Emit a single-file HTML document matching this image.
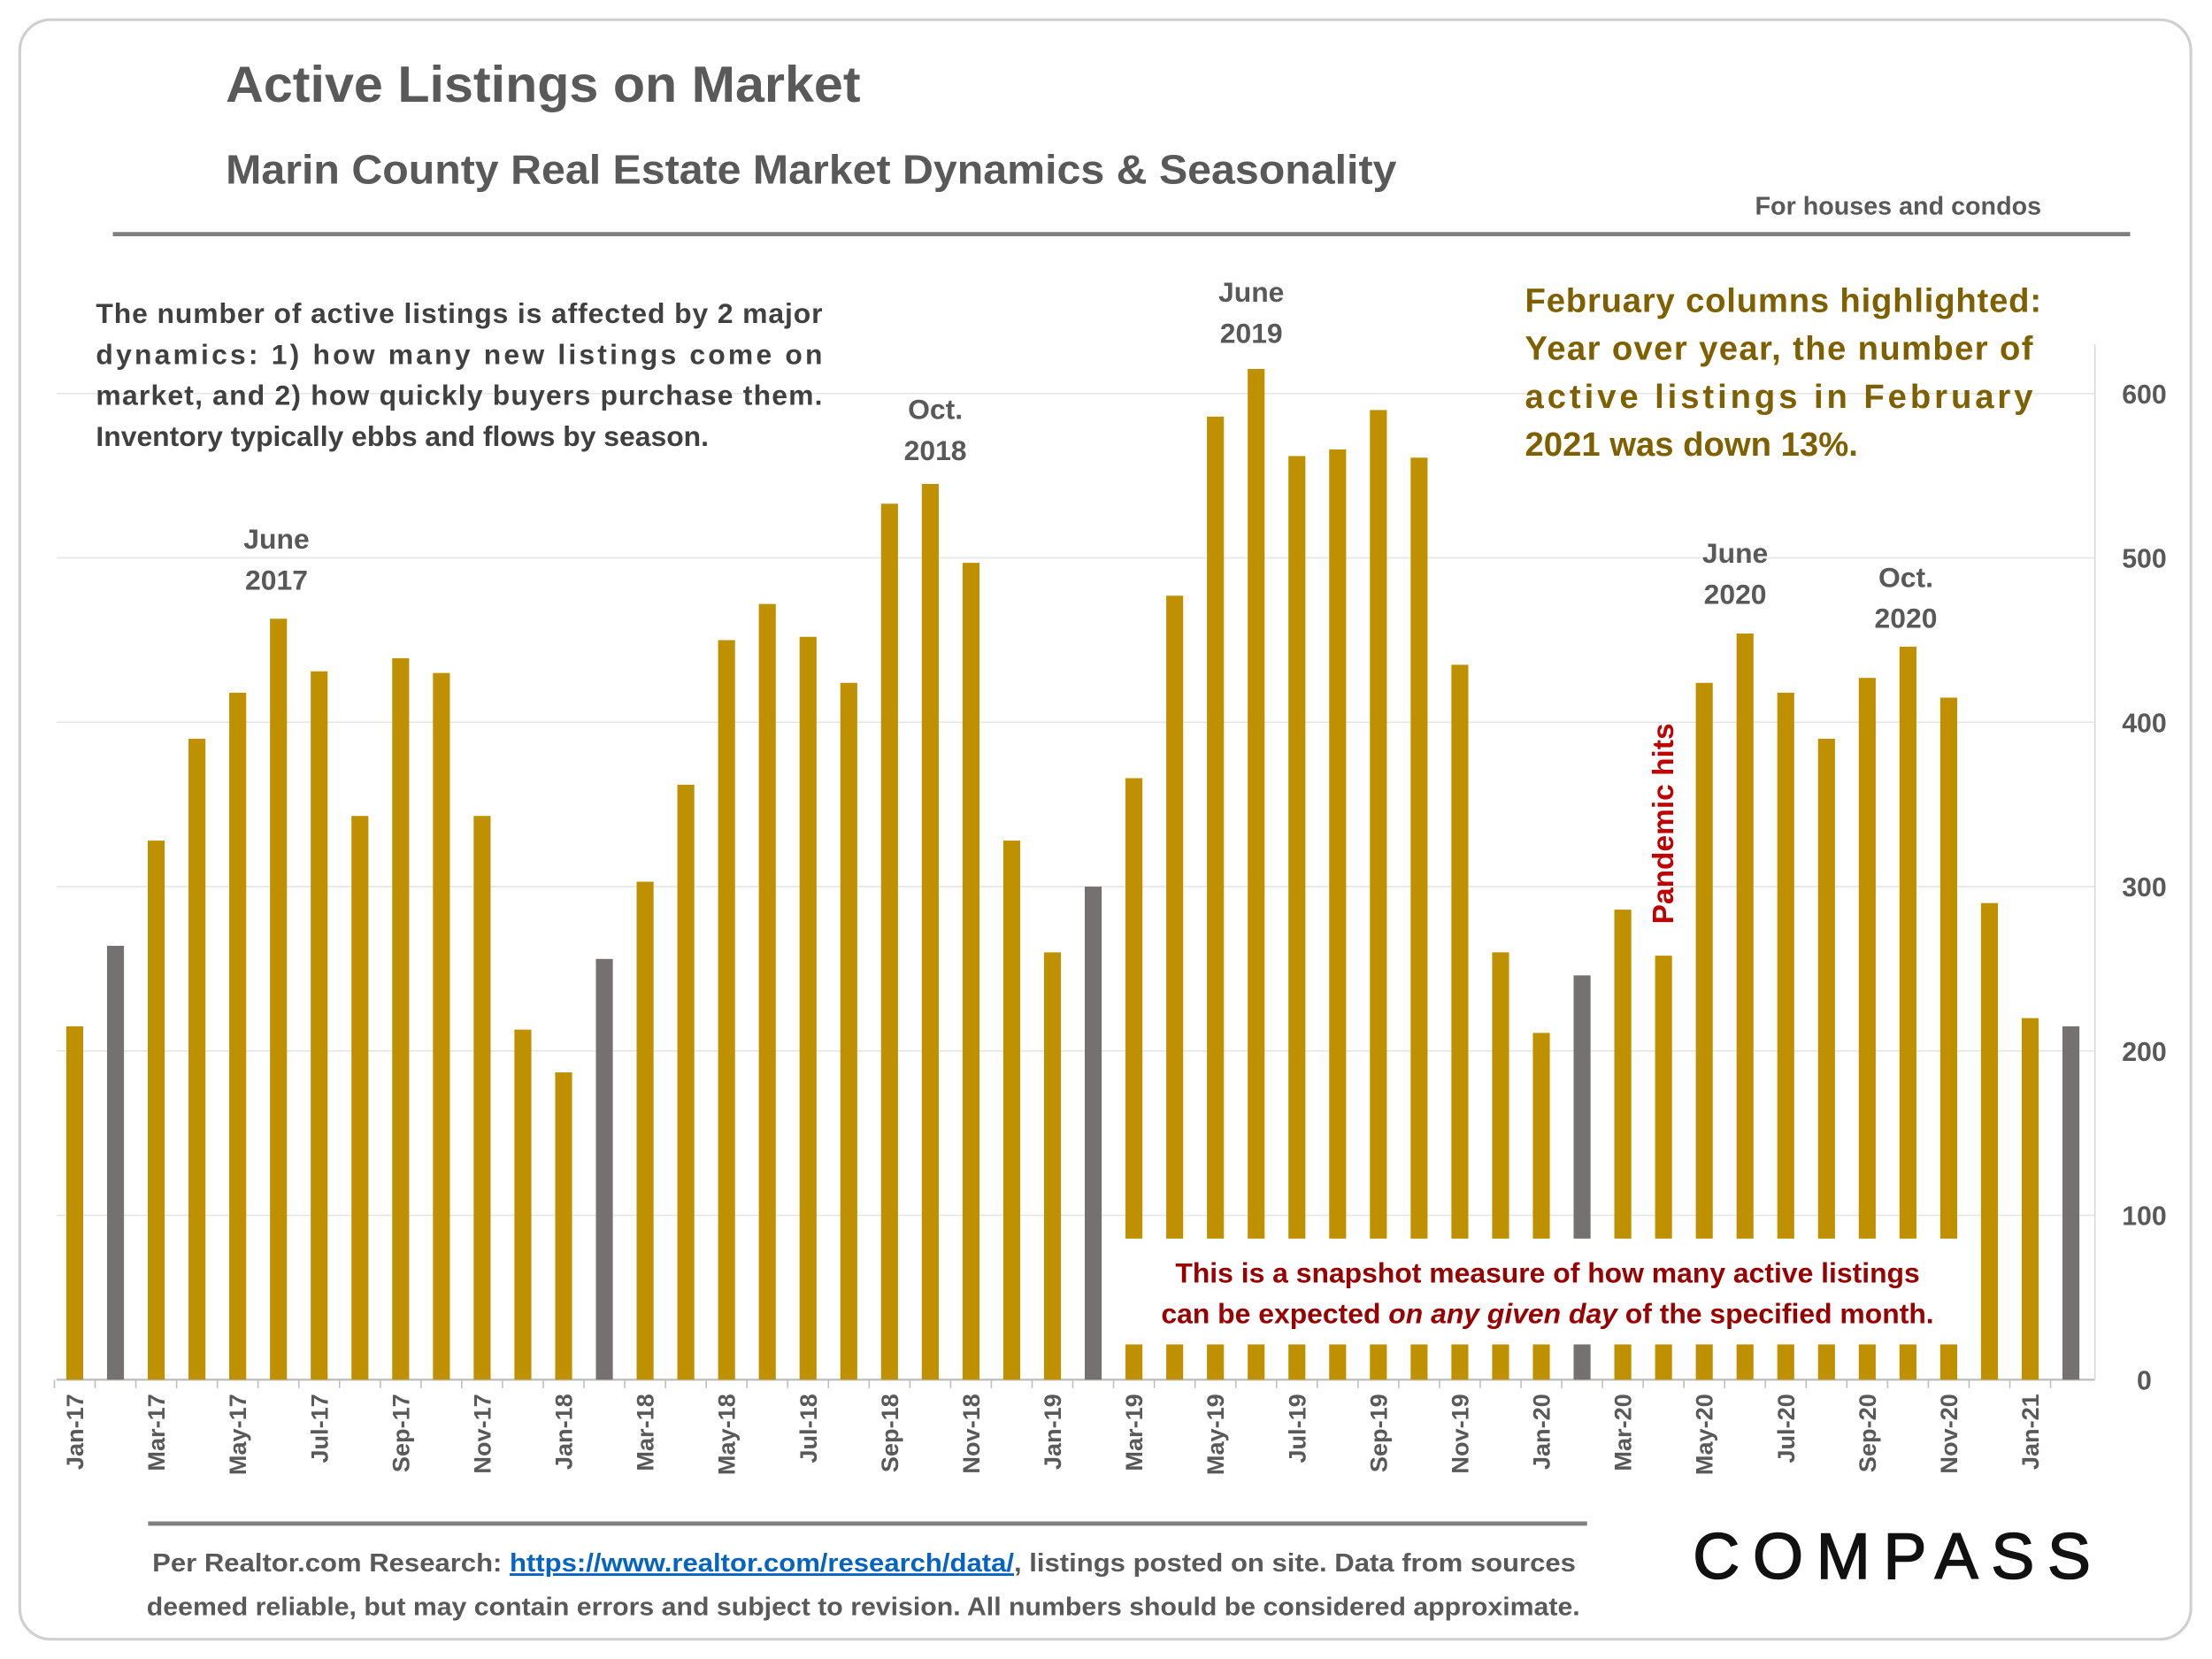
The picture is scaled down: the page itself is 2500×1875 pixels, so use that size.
<!DOCTYPE html>
<html><head><meta charset="utf-8"><style>
html,body{margin:0;padding:0;background:#fff;}
svg{display:block;font-family:"Liberation Sans",Arial,sans-serif;}
</style></head><body>
<svg id="chart" width="2500" height="1875" viewBox="0 0 1568 1176">
<rect x="14" y="14" width="1539" height="1148" rx="22" fill="#fff" stroke="#d0d0d0" stroke-width="2"/>
<text x="160" y="72" font-size="36" font-weight="bold" fill="#595959" textLength="450" lengthAdjust="spacingAndGlyphs">Active Listings on Market</text>
<text x="160" y="130" font-size="29" font-weight="bold" fill="#595959" textLength="830" lengthAdjust="spacingAndGlyphs">Marin County Real Estate Market Dynamics &amp; Seasonality</text>
<text x="1447" y="152" font-size="18" font-weight="bold" fill="#595959" text-anchor="end">For houses and condos</text>
<line x1="80" y1="166" x2="1510" y2="166" stroke="#7f7f7f" stroke-width="3"/>
<g id="grid"></g>
<g id="bars"></g>
<g id="yaxis"></g>
<g id="xaxis"></g>
<rect x="795" y="878" width="595" height="75" fill="#fff"/>
<text x="1097" y="909" font-size="20" font-weight="bold" fill="#990000" text-anchor="middle">This is a snapshot measure of how many active listings</text>
<text x="1097" y="938" font-size="20" font-weight="bold" fill="#990000" text-anchor="middle">can be expected <tspan font-style="italic">on any given day</tspan> of the specified month.</text>
<g font-size="20" font-weight="bold" fill="#404040">
<text x="68" y="229" textLength="515" lengthAdjust="spacing">The number of active listings is affected by 2 major</text>
<text x="68" y="258" textLength="515" lengthAdjust="spacing">dynamics: 1) how many new listings come on</text>
<text x="68" y="287" textLength="515" lengthAdjust="spacing">market, and 2) how quickly buyers purchase them.</text>
<text x="68" y="316">Inventory typically ebbs and flows by season.</text>
</g>
<g font-size="24" font-weight="bold" fill="#7F6000">
<text x="1081" y="221" textLength="366" lengthAdjust="spacing">February columns highlighted:</text>
<text x="1081" y="255" textLength="360" lengthAdjust="spacing">Year over year, the number of</text>
<text x="1081" y="289" textLength="360" lengthAdjust="spacing">active listings in February</text>
<text x="1081" y="323">2021 was down 13%.</text>
</g>
<g font-size="20" font-weight="bold" fill="#595959" text-anchor="middle">
<text x="196" y="389">June</text><text x="196" y="418">2017</text>
<text x="663" y="297">Oct.</text><text x="663" y="326">2018</text>
<text x="887" y="214">June</text><text x="887" y="243">2019</text>
<text x="1230" y="399">June</text><text x="1230" y="428">2020</text>
<text x="1351" y="416">Oct.</text><text x="1351" y="445">2020</text>
</g>
<text transform="translate(1186,655) rotate(-90)" font-size="21" font-weight="bold" fill="#C00000">Pandemic hits</text>
<line x1="105" y1="1080" x2="1125" y2="1080" stroke="#7f7f7f" stroke-width="3"/>
<text x="108" y="1114" font-size="18" font-weight="bold" fill="#595959" textLength="1009" lengthAdjust="spacingAndGlyphs">Per Realtor.com Research:  <tspan fill="#0563C1" text-decoration="underline">https://www.realtor.com/research/data/</tspan>, listings posted on site. Data from sources</text>
<text x="104" y="1145" font-size="18" font-weight="bold" fill="#595959" textLength="1016" lengthAdjust="spacingAndGlyphs">deemed reliable, but may contain errors and subject to revision. All numbers should be considered approximate.</text>
<text x="1200" y="1119" font-size="46" fill="#111" stroke="#111" stroke-width="1" textLength="282" lengthAdjust="spacing">COMPASS</text>
</svg>
<script>
const months = ["Jan-17","Feb-17","Mar-17","Apr-17","May-17","Jun-17","Jul-17","Aug-17","Sep-17","Oct-17","Nov-17","Dec-17","Jan-18","Feb-18","Mar-18","Apr-18","May-18","Jun-18","Jul-18","Aug-18","Sep-18","Oct-18","Nov-18","Dec-18","Jan-19","Feb-19","Mar-19","Apr-19","May-19","Jun-19","Jul-19","Aug-19","Sep-19","Oct-19","Nov-19","Dec-19","Jan-20","Feb-20","Mar-20","Apr-20","May-20","Jun-20","Jul-20","Aug-20","Sep-20","Oct-20","Nov-20","Dec-20","Jan-21","Feb-21"];
const listings = [215,264,328,390,418,463,431,343,439,430,343,213,187,256,303,362,450,472,452,424,533,545,497,328,260,300,366,477,586,615,562,566,590,561,435,260,211,246,286,258,424,454,418,390,427,446,415,290,220,215];
const yTicks = [0,100,200,300,400,500,600];
const NS="http://www.w3.org/2000/svg";
const y0=978, pxPer=699/600, x0=53, step=(1468-53)/49, bw=12;
const y=v=>y0-v*pxPer, x=i=>x0+i*step;
const grid=document.getElementById('grid'), bars=document.getElementById('bars'), ya=document.getElementById('yaxis'), xa=document.getElementById('xaxis');
yTicks.forEach(t=>{
  const l=document.createElementNS(NS,'line');
  
  
  l.setAttribute('x1',40);l.setAttribute('x2',1485);l.setAttribute('y1',y(t));l.setAttribute('y2',y(t));
  l.setAttribute('stroke',t===0?'#bfbfbf':'#e6e6e6');l.setAttribute('stroke-width',t===0?1.5:1);
  grid.appendChild(l);
  const tx=document.createElementNS(NS,'text');
  
  
  tx.setAttribute('x',1520);tx.setAttribute('y',y(t)+7);tx.setAttribute('text-anchor','middle');
  tx.setAttribute('font-size','19');tx.setAttribute('font-weight','bold');tx.setAttribute('fill','#595959');
  tx.textContent=t;ya.appendChild(tx);
});
const ax=document.createElementNS(NS,'line');


ax.setAttribute('x1',1485);ax.setAttribute('x2',1485);ax.setAttribute('y1',244);ax.setAttribute('y2',y0);ax.setAttribute('stroke','#d9d9d9');
ya.appendChild(ax);
listings.forEach((v,i)=>{
  const r=document.createElementNS(NS,'rect');
  
  
  r.setAttribute('x',x(i)-bw/2);r.setAttribute('y',y(v));r.setAttribute('width',bw);r.setAttribute('height',y0-y(v));
  r.setAttribute('fill',months[i].startsWith('Feb')?'#767171':'#BF9000');
  bars.appendChild(r);
  const tk=document.createElementNS(NS,'line');
  
  
  const tx0=x(i)-step/2;
  tk.setAttribute('x1',tx0);tk.setAttribute('x2',tx0);tk.setAttribute('y1',y0);tk.setAttribute('y2',y0+6);tk.setAttribute('stroke','#bfbfbf');
  xa.appendChild(tk);
  if(i%2===0){
    const t=document.createElementNS(NS,'text');
    
    
    t.setAttribute('transform',`translate(${x(i)+6},988) rotate(-90)`);
    t.setAttribute('text-anchor','end');t.setAttribute('font-size','17');t.setAttribute('font-weight','bold');t.setAttribute('fill','#595959');
    t.textContent=months[i];xa.appendChild(t);
  }
});
</script>
</body></html>
